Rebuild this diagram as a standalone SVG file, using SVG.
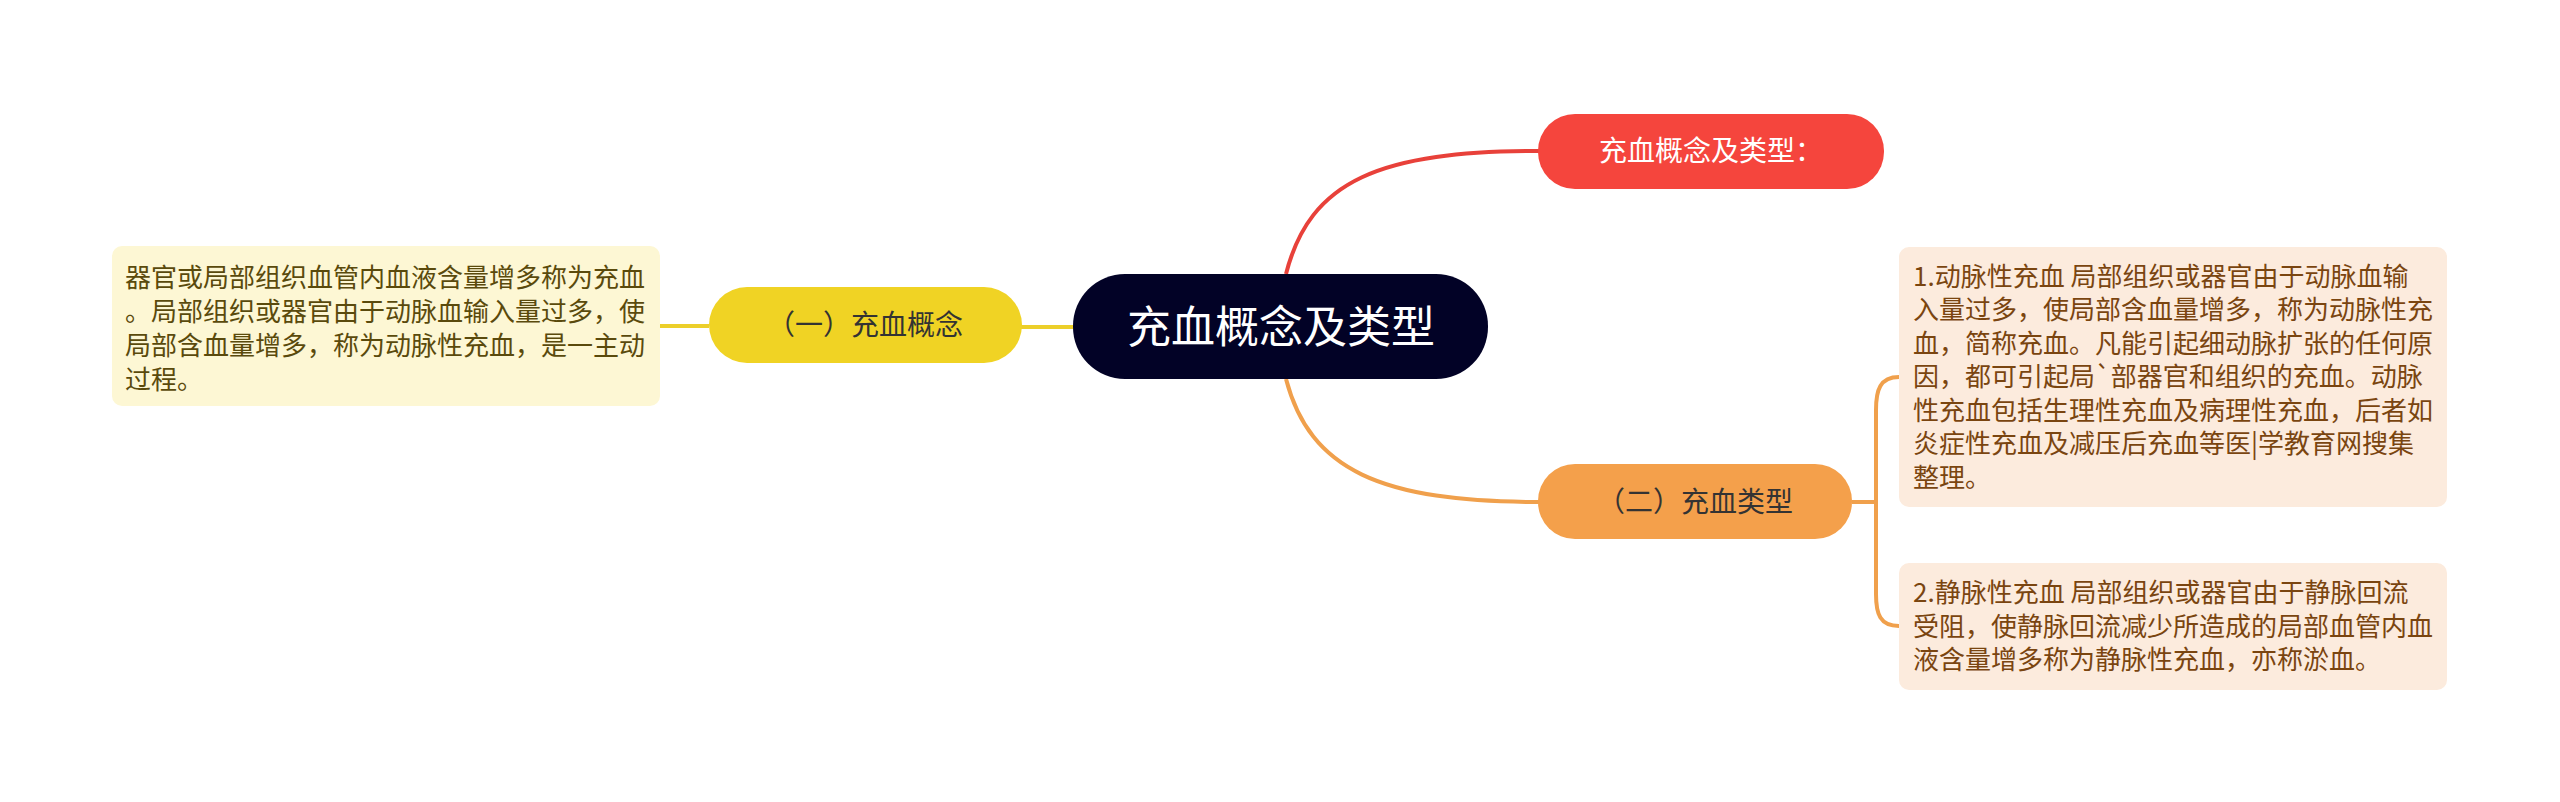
<svg xmlns="http://www.w3.org/2000/svg" width="2560" height="802" viewBox="0 0 2560 802">
<style>
text{font-family:"Noto Sans CJK SC","Noto Sans",sans-serif}
.c{fill:none;stroke-width:4}
.t{font-size:26px}
</style>
<rect width="2560" height="802" fill="#fff"/>
<g id="connectors">
<path class="c" stroke="#e8413a" d="M1286,274 C1310,180 1380,151 1540,151"/>
<path class="c" stroke="#f0a04c" d="M1286,379 C1310,470 1380,502 1540,502"/>
<path class="c" stroke="#eccf2a" d="M1073,327 H1020 M709,326 H660"/>
<path class="c" stroke="#f0a04c" d="M1852,502 H1876 M1899,377 C1880,377 1876,390 1876,410 V594 C1876,614 1880,626 1899,626"/>
</g>
<g id="center"><rect x="1073" y="274" width="415" height="105" rx="52" fill="#020226"/><text x="1281" y="343" font-size="44" fill="#fff" text-anchor="middle">充血概念及类型</text></g>
<g id="red"><rect x="1538" y="114" width="346" height="75" rx="37" fill="#f5453d"/><text x="1711" y="161" font-size="28" fill="#fff" text-anchor="middle">充血概念及类型：</text></g>
<g id="yellow"><rect x="709" y="287" width="313" height="76" rx="38" fill="#f0d324"/><text x="865" y="335" font-size="28" fill="#333" text-anchor="middle">（一）充血概念</text></g>
<g id="orange"><rect x="1538" y="464" width="314" height="75" rx="37" fill="#f4a04b"/><text x="1695" y="512" font-size="28" fill="#333" text-anchor="middle">（二）充血类型</text></g>
<g id="leftbox"><rect x="112" y="246" width="548" height="160" rx="10" fill="#fdf7d4"/>
<text class="t" fill="#5a4a0c"><tspan x="125" y="287">器官或局部组织血管内血液含量增多称为充血</tspan><tspan x="125" y="321">。局部组织或器官由于动脉血输入量过多，使</tspan><tspan x="125" y="355">局部含血量增多，称为动脉性充血，是一主动</tspan><tspan x="125" y="389">过程。</tspan></text></g>
<g id="box1"><rect x="1899" y="247" width="548" height="260" rx="10" fill="#fcebdd"/>
<text class="t" fill="#7a4510"><tspan x="1913" y="286">1.动脉性充血 局部组织或器官由于动脉血输</tspan><tspan x="1913" y="319">入量过多，使局部含血量增多，称为动脉性充</tspan><tspan x="1913" y="353">血，简称充血。凡能引起细动脉扩张的任何原</tspan><tspan x="1913" y="386">因，都可引起局`部器官和组织的充血。动脉</tspan><tspan x="1913" y="420">性充血包括生理性充血及病理性充血，后者如</tspan><tspan x="1913" y="453">炎症性充血及减压后充血等医|学教育网搜集</tspan><tspan x="1913" y="487">整理。</tspan></text></g>
<g id="box2"><rect x="1899" y="563" width="548" height="127" rx="10" fill="#fcebdd"/>
<text class="t" fill="#7a4510"><tspan x="1913" y="602">2.静脉性充血 局部组织或器官由于静脉回流</tspan><tspan x="1913" y="636">受阻，使静脉回流减少所造成的局部血管内血</tspan><tspan x="1913" y="669">液含量增多称为静脉性充血，亦称淤血。</tspan></text></g>
</svg>
